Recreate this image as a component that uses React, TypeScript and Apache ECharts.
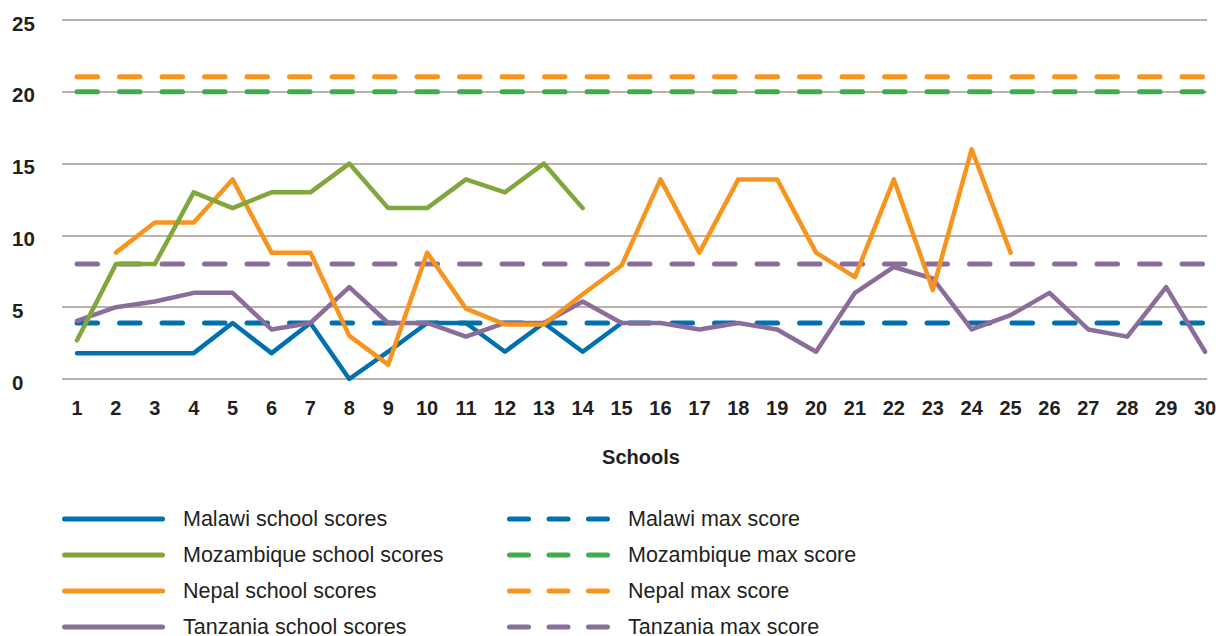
import React, { useEffect, useRef } from 'react';
import * as echarts from 'echarts';

const schools = [1, 2, 3, 4, 5, 6, 7, 8, 9, 10, 11, 12, 13, 14, 15, 16, 17, 18, 19, 20, 21, 22, 23, 24, 25, 26, 27, 28, 29, 30];
const yTicks = [0, 5, 10, 15, 20, 25];

const malawiScores = [1.8, 1.8, 1.8, 1.8, 3.9, 1.8, 3.9, 0, 1.9, 3.9, 3.9, 1.9, 3.9, 1.9, 3.9];
const mozambiqueScores = [2.7, 8, 8, 13, 11.9, 13, 13, 15, 11.9, 11.9, 13.9, 13, 15, 11.9];
const nepalScores = [null, 8.8, 10.9, 10.9, 13.9, 8.8, 8.8, 3, 1, 8.8, 4.9, 3.8, 3.8, 5.9, 7.9, 13.9, 8.8, 13.9, 13.9, 8.8, 7.1, 13.9, 6.2, 16, 8.8];
const tanzaniaScores = [4.05, 5, 5.4, 6, 6, 3.45, 3.9, 6.4, 3.9, 3.9, 2.95, 3.9, 3.9, 5.4, 3.9, 3.9, 3.45, 3.9, 3.45, 1.9, 6, 7.8, 7, 3.45, 4.45, 6, 3.45, 2.95, 6.4, 1.9];

const malawiMax = 3.9;
const mozambiqueMax = 20;
const nepalMax = 21.05;
const tanzaniaMax = 8;

const scoreNames = ['Malawi school scores', 'Mozambique school scores', 'Nepal school scores', 'Tanzania school scores'];
const maxNames = ['Malawi max score', 'Mozambique max score', 'Nepal max score', 'Tanzania max score'];

const BLUE = '#0071AE';
const OLIVE = '#81A63B';
const GREEN = '#3FAE4A';
const ORANGE = '#F7941E';
const PURPLE = '#8B6D9B';
const GRID = '#A39991';
const TEXT = '#231F20';
const FONT = '"Liberation Sans", Arial, Helvetica, sans-serif';

const toPairs = (arr: (number | null)[]) => arr.map((v, i) => [schools[i], v]);
const flat = (v: number) => schools.map((s) => [s, v]);

// legend icons (103 x 5): a rounded bar, and three rounded dashes
const pill = (x0: number, w: number) =>
  `M${x0 + 2.5},0 H${x0 + w - 2.5} A2.5,2.5 0 0 1 ${x0 + w - 2.5},5 H${x0 + 2.5} A2.5,2.5 0 0 1 ${x0 + 2.5},0 Z`;
const SOLID_ICON = 'path://' + pill(0, 103);
const DASH_ICON = 'path://' + pill(0, 24) + ' ' + pill(39.5, 24) + ' ' + pill(79, 24);

export default function App() {
  const ref = useRef<HTMLDivElement>(null);
  useEffect(() => {
    const chart = echarts.init(ref.current!, null, { renderer: 'svg' });
    const solid = (name: string, color: string, data: any[]) => ({
      name,
      type: 'line',
      data,
      symbol: 'none',
      showSymbol: false,
      connectNulls: false,
      color,
      itemStyle: { color },
      lineStyle: { color, width: 4.5, cap: 'round', join: 'round' },
      z: 3,
    });
    const dashed = (name: string, color: string, v: number) => ({
      name,
      type: 'line',
      data: flat(v),
      symbol: 'none',
      showSymbol: false,
      color,
      itemStyle: { color },
      lineStyle: { color, width: 5, type: [20.5, 22], cap: 'round' },
      z: 2,
    });
    const legendBase = {
      orient: 'vertical',
      top: 508,
      height: 200,
      padding: 0,
      itemWidth: 103,
      itemHeight: 5,
      itemGap: 14,
      symbolKeepAspect: false,
      textStyle: { fontFamily: FONT, fontSize: 21.5, lineHeight: 22, color: TEXT, padding: [0, 0, 0, 13] },
    };
    const option: any = {
      animation: false,
      backgroundColor: '#ffffff',
      grid: { left: 62, right: 14, top: 20, bottom: 257, containLabel: false },
      xAxis: {
        type: 'value',
        min: 0.614,
        max: 30.05,
        axisLine: { show: false },
        axisTick: { show: false },
        splitLine: { show: false },
        axisLabel: {
          customValues: schools,
          fontFamily: FONT,
          fontSize: 20,
          fontWeight: 'bold',
          color: TEXT,
          margin: 19,
        },
        name: 'Schools',
        nameLocation: 'middle',
        nameGap: 68,
        nameTextStyle: { fontFamily: FONT, fontSize: 20, fontWeight: 'bold', color: TEXT, padding: [0, 0, 0, 13] },
      },
      yAxis: {
        type: 'value',
        min: yTicks[0],
        max: yTicks[yTicks.length - 1],
        interval: 5,
        axisLine: { show: false },
        axisTick: { show: false },
        splitLine: { show: true, lineStyle: { color: GRID, width: 1.5 } },
        axisLabel: {
          formatter: '{a|{value}}',
          rich: {
            a: { fontFamily: FONT, fontSize: 20.5, fontWeight: 'bold', color: TEXT, padding: [6, 0, 0, 0] },
          },
          align: 'left',
          margin: 50,
        },
      },
      legend: [
        {
          ...legendBase,
          left: 62,
          data: scoreNames.map((n) => ({ name: n, icon: SOLID_ICON })),
        },
        {
          ...legendBase,
          left: 507,
          data: maxNames.map((n) => ({ name: n, icon: DASH_ICON })),
        },
      ],
      series: [
        dashed(maxNames[0], BLUE, malawiMax),
        dashed(maxNames[1], GREEN, mozambiqueMax),
        dashed(maxNames[2], ORANGE, nepalMax),
        dashed(maxNames[3], PURPLE, tanzaniaMax),
        solid(scoreNames[0], BLUE, toPairs(malawiScores)),
        solid(scoreNames[3], PURPLE, toPairs(tanzaniaScores)),
        solid(scoreNames[2], ORANGE, toPairs(nepalScores)),
        solid(scoreNames[1], OLIVE, toPairs(mozambiqueScores)),
      ],
    };
    chart.setOption(option);
    return () => chart.dispose();
  }, []);
  return <div ref={ref} style={{ position: 'fixed', left: 0, top: 0, width: 1221, height: 636, background: '#fff' }} />;
}
